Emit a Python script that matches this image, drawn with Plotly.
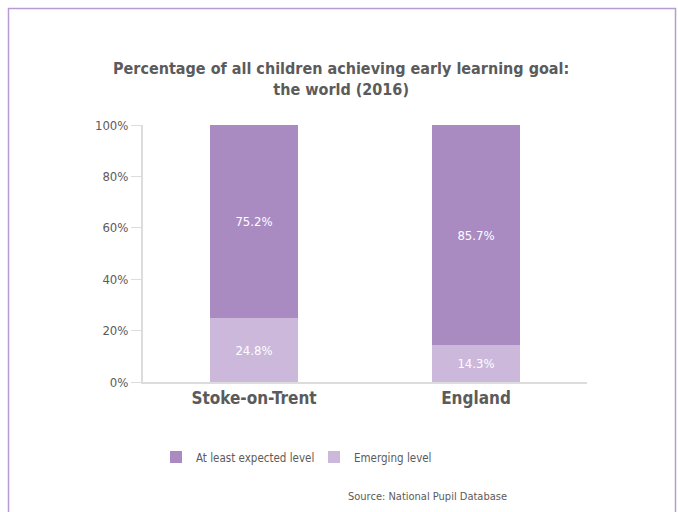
import plotly.graph_objects as go

# Chart data
areas = ["Stoke-on-Trent", "England"]
expected_level = [75.2, 85.7]
emerging_level = [24.8, 14.3]
y_ticks = [0, 20, 40, 60, 80, 100]
y_tick_labels = ["0%", "20%", "40%", "60%", "80%", "100%"]

DARK = "#a98bc1"
LIGHT = "#cbb8da"
TEXT = "#5b5b5b"
FONT = "DejaVu Sans Condensed, Roboto, Arial, sans-serif"

W, H = 678, 512
L, R, T, B = 143, 91, 125, 130
pw, ph = W - L - R, H - T - B


def px_x(x):
    return (x - L) / pw


def px_y(y):
    return (H - B - y) / ph


fig = go.Figure()
fig.add_trace(go.Bar(
    x=areas, y=emerging_level, name="Emerging level",
    marker=dict(color=LIGHT, line=dict(width=0)),
    text=[f"{v}%" for v in emerging_level], textposition="inside",
    insidetextanchor="middle",
    textfont=dict(color="white", size=13, family=FONT),
))
fig.add_trace(go.Bar(
    x=areas, y=expected_level, name="At least expected level",
    marker=dict(color=DARK, line=dict(width=0)),
    text=[f"{v}%" for v in expected_level], textposition="inside",
    insidetextanchor="middle",
    textfont=dict(color="white", size=13, family=FONT),
))

fig.update_layout(
    width=W, height=H,
    margin=dict(l=L, r=R, t=T, b=B),
    barmode="stack", bargap=0.6,
    paper_bgcolor="white", plot_bgcolor="white",
    font=dict(family=FONT, color=TEXT),
    showlegend=True,
    legend=dict(
        orientation="h", traceorder="reversed",
        x=px_x(156), xanchor="left", y=px_y(457), yanchor="middle",
        font=dict(size=11.5, color=TEXT, family=FONT),
        itemwidth=30, entrywidth=113,
    ),
    uniformtext=dict(mode="show", minsize=13),
)
fig.update_xaxes(
    showline=True, linecolor="#dcdcdc", linewidth=2,
    ticks="", tickfont=dict(size=17, color=TEXT, family=FONT),
    tickvals=areas, ticktext=[f"<b>{a}</b>" for a in areas],
    showgrid=False,
)
fig.update_yaxes(
    range=[0, 100], tickvals=y_ticks, ticktext=y_tick_labels,
    showline=True, linecolor="#dcdcdc", linewidth=2,
    ticks="outside", ticklen=10, tickcolor="#dcdcdc", tickwidth=1,
    tickfont=dict(size=13, color=TEXT, family=FONT),
    showgrid=False, zeroline=False,
)

# Title
fig.add_annotation(
    text="<b>Percentage of all children achieving early learning goal:<br>the world (2016)</b>",
    xref="paper", yref="paper", x=px_x(341), y=px_y(79),
    xanchor="center", yanchor="middle", showarrow=False,
    font=dict(size=16, color=TEXT, family=FONT),
)
# Source note
fig.add_annotation(
    text="Source: National Pupil Database",
    xref="paper", yref="paper", x=px_x(509), y=px_y(496),
    xanchor="right", yanchor="middle", showarrow=False,
    font=dict(size=11, color=TEXT, family=FONT),
)
# Outer frame
fig.add_shape(
    type="rect", xref="paper", yref="paper",
    x0=px_x(8.5), x1=px_x(675.5), y0=px_y(530), y1=px_y(8.5),
    line=dict(color="#b99bd3", width=1.5), layer="below",
)

fig.write_html("out.html")
